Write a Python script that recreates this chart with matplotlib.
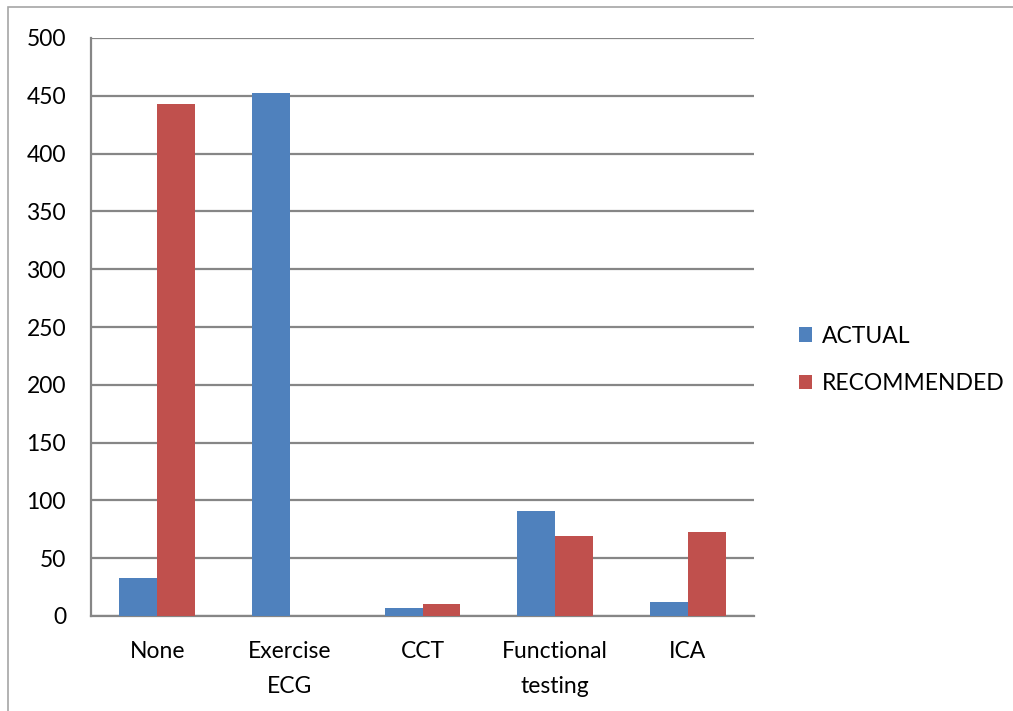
import numpy as np
import matplotlib.pyplot as plt
from matplotlib.patches import Rectangle

plt.rcParams['font.family'] = ['Lato', 'DejaVu Sans']

# testing pathway counts
categories = ['None', 'Exercise\nECG', 'CCT', 'Functional\ntesting', 'ICA']
actual = [33, 452, 7, 91, 12]
recommended = [443, 0, 10, 69, 73]

blue = '#4f81bd'
red = '#c0504d'
grey = '#868686'

fig = plt.figure(figsize=(10.13, 7.11), dpi=100)
W, H = 1013, 711
ax = fig.add_axes([91 / W, (H - 616) / H, (754 - 91) / W, (616 - 38) / H])

x = np.arange(len(categories))
w = 1 / 3.5  # 150% gap between groups
ax.bar(x - w / 2, actual, w, color=blue, label='ACTUAL', zorder=3)
ax.bar(x + w / 2, recommended, w, color=red, label='RECOMMENDED', zorder=3)

ax.set_xlim(-0.5, len(categories) - 0.5)
ax.set_ylim(0, 500)
ax.set_yticks(range(0, 501, 50))
ax.yaxis.grid(True, color=grey, linewidth=1.6, zorder=0)
ax.set_axisbelow(True)

ax.set_xticks(x)
ax.set_xticklabels(categories, fontsize=16.5, linespacing=1.85)
ax.tick_params(axis='x', length=0, pad=18)
ax.tick_params(axis='y', labelsize=16.5, length=0, pad=18)

for s in ['top', 'right']:
    ax.spines[s].set_visible(False)
for s in ['left', 'bottom']:
    ax.spines[s].set_color(grey)
    ax.spines[s].set_linewidth(1.6)

leg = fig.legend(loc='center left', bbox_to_anchor=(778 / W, 1 - 360 / H),
                 frameon=False, fontsize=16.5, handlelength=0.6,
                 handleheight=0.6, handletextpad=0.4, labelspacing=1.15)

# chart border
fig.add_artist(Rectangle((8 / W, -0.05), 1.2, 1 - 7 / H + 0.05,
                         transform=fig.transFigure, fill=False,
                         edgecolor='#a6a6a6', linewidth=1.2))

fig.savefig('out.png', dpi=100)
